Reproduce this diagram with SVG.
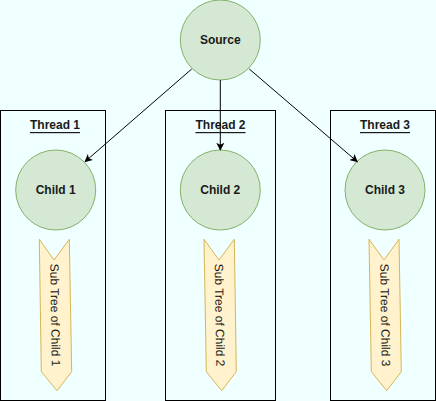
<svg xmlns="http://www.w3.org/2000/svg" width="436" height="401" viewBox="0 0 436 401">
<defs>
<style>
.bg{fill:#f0ffff}
.box{fill:none;stroke:#000;stroke-width:1}
.circ{fill:#d5e8d4;stroke:#82b366;stroke-width:1}
.chev{fill:#fff2cc;stroke:#d6b656;stroke-width:1}
.lbl{font-family:"Liberation Sans",Arial,sans-serif;font-size:12px;font-weight:bold;fill:#1a1a1a;text-anchor:middle;dominant-baseline:central}
.th{text-decoration:underline}
.sub{font-family:"Liberation Sans",Arial,sans-serif;font-size:12px;fill:#1a1a1a;text-anchor:middle;dominant-baseline:central}
.edge{stroke:#000;stroke-width:1;fill:none}
</style>
<marker id="arr" viewBox="0 0 10 10" refX="9" refY="5" markerWidth="8" markerHeight="8" markerUnits="userSpaceOnUse" orient="auto">
<path d="M0,0 L10,5 L0,10 L2.5,5 Z" fill="#000"/>
</marker>
</defs>
<rect class="bg" x="0" y="0" width="436" height="401"/>
<g id="thread1"><rect class="box" x="0.5" y="110.5" width="105" height="290"/><text class="lbl th" x="55" y="125">Thread 1</text></g>
<g id="thread2"><rect class="box" x="165.5" y="110.5" width="110" height="290"/><text class="lbl th" x="220.5" y="125">Thread 2</text></g>
<g id="thread3"><rect class="box" x="330.5" y="110.5" width="105" height="290"/><text class="lbl th" x="385" y="125">Thread 3</text></g>
<g id="source"><circle class="circ" cx="220.3" cy="40" r="40"/><text class="lbl" x="220.3" y="40">Source</text></g>
<g id="child1"><circle class="circ" cx="55.7" cy="190" r="40"/><text class="lbl" x="55.7" y="190">Child 1</text></g>
<g id="child2"><circle class="circ" cx="220.3" cy="190" r="40"/><text class="lbl" x="220.3" y="190">Child 2</text></g>
<g id="child3"><circle class="circ" cx="385" cy="190" r="40"/><text class="lbl" x="385" y="190">Child 3</text></g>
<g id="subtree1"><polygon class="chev" points="39.3,239.3 54,260 69.3,239.3 71.7,371.7 57,390.7 41.3,371.7"/><text class="sub" transform="translate(55,315) rotate(89.1)">Sub Tree of Child 1</text></g>
<g id="subtree2"><polygon class="chev" points="204,239.3 219,260 234.3,239.3 236.3,371.7 221.7,390.7 206.3,371.7"/><text class="sub" transform="translate(219.5,315) rotate(89.1)">Sub Tree of Child 2</text></g>
<g id="subtree3"><polygon class="chev" points="369,239.3 384,260 399,239.3 401.3,371.7 386.7,390.7 371.3,371.7"/><text class="sub" transform="translate(385,315) rotate(89.1)">Sub Tree of Child 3</text></g>
<g id="connectors">
<line class="edge" x1="191.7" y1="69" x2="85" y2="161.7" marker-end="url(#arr)"/>
<line class="edge" x1="220.3" y1="80" x2="220.3" y2="150" marker-end="url(#arr)"/>
<line class="edge" x1="249.3" y1="69" x2="357.3" y2="161.7" marker-end="url(#arr)"/>
</g>
</svg>
